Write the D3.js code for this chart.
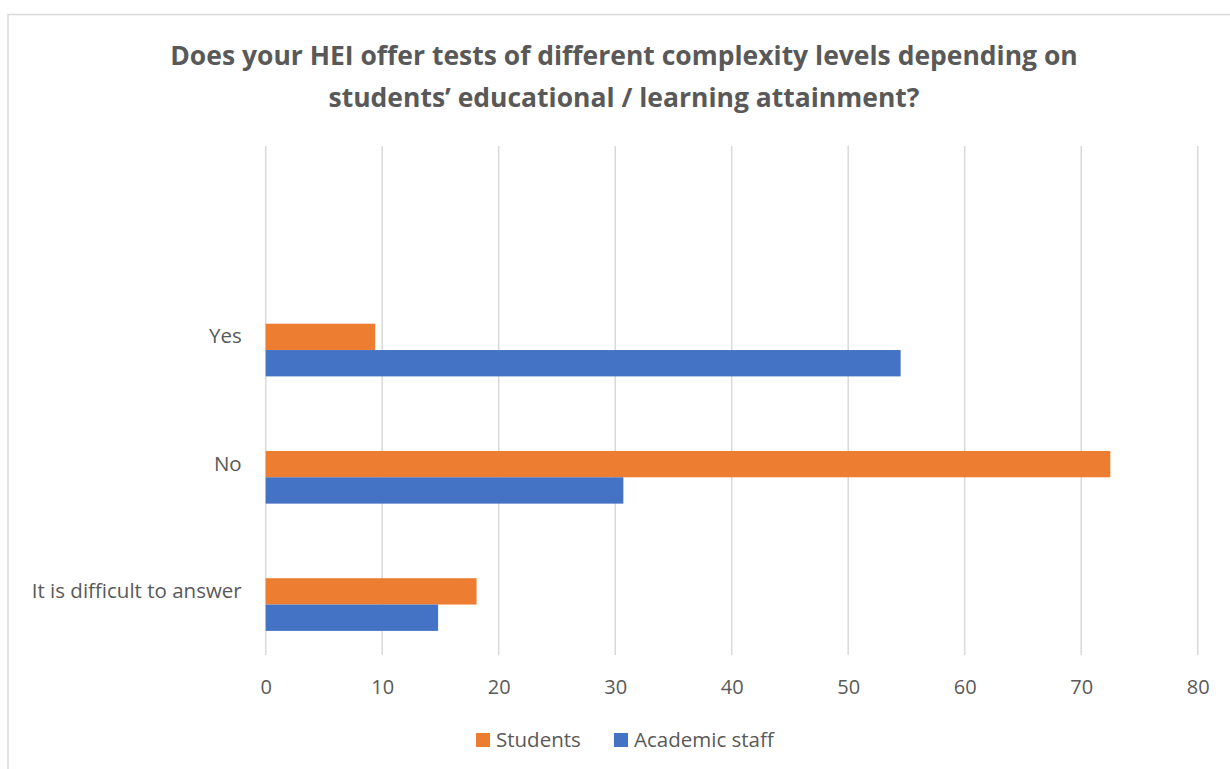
<!DOCTYPE html>
<html><head><meta charset="utf-8">
<script src="https://cdn.jsdelivr.net/npm/d3@7"></script>
<style>body{margin:0;background:#fff;}svg{display:block;}</style>
</head><body>
<svg id="c" width="1230" height="769"></svg>
<script>
const categories = ["Yes", "No", "It is difficult to answer"];
const seriesNames = ["Students", "Academic staff"];
const students = [9.4, 72.5, 18.1];
const academicStaff = [54.5, 30.7, 14.8];
const xTicks = [0, 10, 20, 30, 40, 50, 60, 70, 80];
const titleLines = ["Does your HEI offer tests of different complexity levels depending on", "students’ educational / learning attainment?"];

const colors = {"Students": "#ED7D31", "Academic staff": "#4472C4"};
const textColor = "#595959";
const font = "'Open Sans', 'Liberation Sans', sans-serif";

const svg = d3.select("#c");
svg.append("rect").attr("x", 8).attr("y", 14.5).attr("width", 1240).attr("height", 780)
  .attr("fill", "#fff").attr("stroke", "#d9d9d9").attr("stroke-width", 1.5);

const x = d3.scaleLinear().domain([0, 80]).range([265.7, 1197.7]);
// plot area spans 146..655 with room for four category slots; the three categories fill the lower three
const y0 = d3.scaleBand().domain(categories).range([273.25, 655]).paddingInner(0.379).paddingOuter(0.1895);
// Excel group slots: an empty slot, then Students, then Academic staff
const y1 = d3.scaleBand().domain(["", ...seriesNames]).range([0, y0.bandwidth()]);

// gridlines
svg.append("g").selectAll("line").data(xTicks).join("line")
  .attr("x1", d => x(d)).attr("x2", d => x(d)).attr("y1", 146).attr("y2", 655)
  .attr("stroke", "#d9d9d9").attr("stroke-width", 1.5);

const rows = categories.map((c, i) => ({cat: c, vals: [
  {key: "Students", v: students[i]}, {key: "Academic staff", v: academicStaff[i]}]}));

const g = svg.append("g").selectAll("g").data(rows).join("g")
  .attr("transform", d => `translate(0,${y0(d.cat)})`);
g.selectAll("rect").data(d => d.vals).join("rect")
  .attr("x", x(0)).attr("y", d => y1(d.key))
  .attr("width", d => x(d.v) - x(0)).attr("height", y1.bandwidth())
  .attr("fill", d => colors[d.key]);

// axes
const xAxis = svg.append("g").attr("transform", "translate(0,655)")
  .call(d3.axisBottom(x).tickValues(xTicks).tickSize(0).tickPadding(25));
xAxis.select(".domain").remove();
xAxis.selectAll("text").attr("fill", textColor).style("font-family", font).style("font-size", "20px");

const yAxis = svg.append("g").attr("transform", `translate(${x(0)},0)`)
  .call(d3.axisLeft(y0).tickSize(0).tickPadding(24));
yAxis.select(".domain").remove();
yAxis.selectAll("text").attr("fill", textColor).style("font-family", font).style("font-size", "20.5px");

// title
const targetW = 908;
const t = svg.append("g");
titleLines.forEach((line, i) => {
  t.append("text").attr("x", 624).attr("y", [65, 107][i]).attr("text-anchor", "middle")
    .attr("fill", textColor).style("font-family", font).style("font-weight", "bold")
    .style("font-size", "26px").text(line);
});
const w0 = t.select("text").node().getComputedTextLength();
const fs = 26 * targetW / w0;
t.selectAll("text").style("font-size", fs + "px");

// legend
const legendX = [476, 614];
const lg = svg.append("g").selectAll("g").data(seriesNames).join("g")
  .attr("transform", (d, i) => `translate(${legendX[i]},733)`);
lg.append("rect").attr("width", 14).attr("height", 14).attr("fill", d => colors[d]);
lg.append("text").attr("x", 20).attr("y", 7).attr("dy", "0.35em")
  .attr("fill", textColor).style("font-family", font).style("font-size", "20.5px").text(d => d);
</script>
</body></html>
